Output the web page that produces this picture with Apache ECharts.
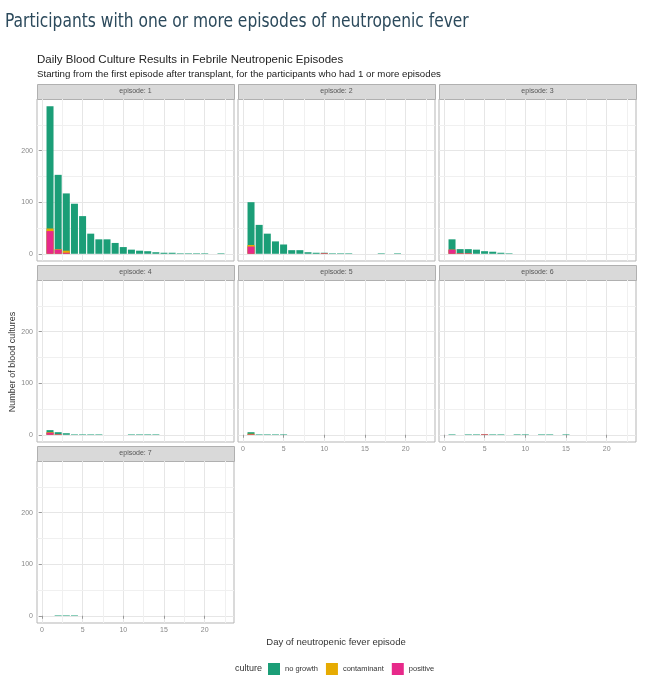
<!DOCTYPE html>
<html>
<head>
<meta charset="utf-8">
<script src="https://cdn.jsdelivr.net/npm/echarts@6/dist/echarts.min.js"></script>
<style>
  html, body { margin: 0; padding: 0; background: #fff; }
  #chart { width: 650px; height: 688px; }
</style>
</head>
<body>
<div id="chart"></div>
<script>
window.onload = function () {

    // days 1..23 of each episode
    var days = [1,2,3,4,5,6,7,8,9,10,11,12,13,14,15,16,17,18,19,20,21,22,23];
    var episodes = ['episode: 1','episode: 2','episode: 3','episode: 4','episode: 5','episode: 6','episode: 7'];
    var cultures = ['no growth','contaminant','positive'];

    // blood culture counts per day
    var noGrowth = [
        [237,144,111,97,73,39,28,28,21,13,8,6,5,3,2,2,1,1,1,1,0,1,0],
        [83,56,39,24,18,7,7,3,2,1,1,1,1,0,0,0,1,0,1,0,0,0,0],
        [20,8,8,8,5,4,2,1,0,0,0,0,0,0,0,0,0,0,0,0,0,0,0],
        [4,4,3,1,1,1,1,0,0,0,1,1,1,1,0,0,0,0,0,0,0,0,0],
        [3,1,1,1,1,0,0,0,0,0,0,0,0,0,0,0,0,0,0,0,0,0,0],
        [1,0,1,1,0,1,1,0,1,1,0,1,1,0,1,0,0,0,0,0,0,0,0],
        [0,1,1,1,0,0,0,0,0,0,0,0,0,0,0,0,0,0,0,0,0,0,0]
    ];
    var contaminant = [
        [5,1,4,0,0,0,0,0,0,0,0,0,0,0,0,0,0,0,0,0,0,0,0],
        [3,0,0,0,0,0,0,0,0,0,0,0,0,0,0,0,0,0,0,0,0,0,0],
        [0,0,0,0,0,0,0,0,0,0,0,0,0,0,0,0,0,0,0,0,0,0,0],
        [1,0,0,0,0,0,0,0,0,0,0,0,0,0,0,0,0,0,0,0,0,0,0],
        [1,0,0,0,0,0,0,0,0,0,0,0,0,0,0,0,0,0,0,0,0,0,0],
        [0,0,0,0,0,0,0,0,0,0,0,0,0,0,0,0,0,0,0,0,0,0,0],
        [0,0,0,0,0,0,0,0,0,0,0,0,0,0,0,0,0,0,0,0,0,0,0]
    ];
    var positive = [
        [44,8,2,0,0,0,0,0,0,0,0,0,0,0,0,0,0,0,0,0,0,0,0],
        [14,0,0,0,0,0,0,0,0,1,0,0,0,0,0,0,0,0,0,0,0,0,0],
        [8,1,1,0,0,0,0,0,0,0,0,0,0,0,0,0,0,0,0,0,0,0,0],
        [4,1,0,0,0,0,0,0,0,0,0,0,0,0,0,0,0,0,0,0,0,0,0],
        [1,0,0,0,0,0,0,0,0,0,0,0,0,0,0,0,0,0,0,0,0,0,0],
        [0,0,0,0,1,0,0,0,0,0,0,0,0,0,0,0,0,0,0,0,0,0,0],
        [0,0,0,0,0,0,0,0,0,0,0,0,0,0,0,0,0,0,0,0,0,0,0]
    ];
    var xTicks = [0,5,10,15,20];
    var yTicks = [0,100,200];
    var xMinor = [2.5,7.5,12.5,17.5,22.5];
    var yMinor = [50,150,250];

    var colors = ['#1b9e77','#e6ab02','#e7298a'];
    var lefts = [37,238,439];
    var tops = [99,280,461];
    var W = 197, H = 162;

    var grids = [], xAxes = [], yAxes = [], series = [], graphics = [];

    // stacked bars: each layer is drawn from 0 up to its cumulative top,
    // upper layers first so the lower ones are painted over them
    function layer(ep, upto){
        var out = [];
        for (var d = 0; d < days.length; d++) {
            var v = positive[ep][d];
            if (upto <= 1) v += contaminant[ep][d];
            if (upto <= 0) v += noGrowth[ep][d];
            out.push([days[d], v]);
        }
        return out;
    }

    for (var i = 0; i < episodes.length; i++) {
        var col = i % 3, row = Math.floor(i / 3);
        var bottomPanel = (i >= 4);
        var leftPanel = (col === 0);

        grids.push({
            left: lefts[col], top: tops[row], width: W, height: H,
            show: true, borderColor: '#b5b5b5', borderWidth: 1, backgroundColor: '#fff'
        });
        xAxes.push({
            gridIndex: i, type: 'value', min: -0.6, max: 23.6, splitNumber: 5,
            axisLine: { show: false },
            axisTick: { show: bottomPanel, length: 3, customValues: xTicks, lineStyle: { color: '#999' } },
            axisLabel: { show: bottomPanel, customValues: xTicks, fontSize: 7, color: '#888', margin: 4,
                         fontFamily: 'Liberation Sans' },
            splitLine: { show: true, lineStyle: { color: '#e6e6e6', width: 1 } }
        });
        yAxes.push({
            gridIndex: i, type: 'value', min: -14, max: 300, splitNumber: 3,
            axisLine: { show: false },
            axisTick: { show: leftPanel, length: 3, customValues: yTicks, lineStyle: { color: '#999' } },
            axisLabel: { show: leftPanel, customValues: yTicks, fontSize: 7, color: '#888', margin: 4,
                         fontFamily: 'Liberation Sans' },
            splitLine: { show: true, lineStyle: { color: '#e6e6e6', width: 1 } }
        });

        for (var c = 0; c < cultures.length; c++) {
            series.push({
                name: cultures[c], type: 'bar', xAxisIndex: i, yAxisIndex: i,
                barWidth: 7, barGap: '-100%', data: layer(i, c),
                itemStyle: { color: colors[c] }, silent: true, animation: false
            });
        }
        // minor grid lines
        var ml = [];
        xMinor.forEach(function(v){ ml.push({ xAxis: v }); });
        yMinor.forEach(function(v){ ml.push({ yAxis: v }); });
        series.push({
            type: 'line', xAxisIndex: i, yAxisIndex: i, data: [], silent: true, animation: false, z: 0,
            markLine: { symbol: ['none','none'], silent: true, animation: false, z: 0,
                        label: { show: false }, lineStyle: { color: '#f0f0f0', width: 1, type: 'solid' },
                        data: ml }
        });

        // facet strip
        graphics.push({
            type: 'rect', left: lefts[col], top: tops[row] - 15,
            shape: { width: W, height: 15 },
            style: { fill: '#d9d9d9', stroke: '#b0b0b0', lineWidth: 1 }
        });
        graphics.push({
            type: 'text', x: lefts[col] + W / 2, y: tops[row] - 7.5,
            style: { text: episodes[i], fill: '#555', font: '7px "Liberation Sans"',
                     textAlign: 'center', textVerticalAlign: 'middle' }
        });
    }

    // slide heading (narrow face)
    graphics.push({
        type: 'text', x: 5, y: 22, scaleX: 0.86,
        style: { text: 'Participants with one or more episodes of neutropenic fever', fill: '#2c4a5c',
                 font: '20px "Liberation Sans Narrow", "DejaVu Sans Condensed", sans-serif',
                 textAlign: 'left', textVerticalAlign: 'middle' }
    });
    graphics.push({
        type: 'text', x: 13, y: 362, rotation: Math.PI / 2,
        style: { text: 'Number of blood cultures', fill: '#333', font: '9px "Liberation Sans"',
                 textAlign: 'center', textVerticalAlign: 'middle' }
    });
    graphics.push({
        type: 'text', x: 336, y: 642,
        style: { text: 'Day of neutropenic fever episode', fill: '#333', font: '9.5px "Liberation Sans"',
                 textAlign: 'center', textVerticalAlign: 'middle' }
    });
    graphics.push({
        type: 'text', x: 262, y: 669,
        style: { text: 'culture', fill: '#333', font: '9px "Liberation Sans"',
                 textAlign: 'right', textVerticalAlign: 'middle' }
    });

    var myChart = echarts.init(document.getElementById('chart'), null, { renderer: 'canvas' });

    var option = {
        backgroundColor: '#fff',
        animation: false,
        title: [
            { text: 'Daily Blood Culture Results in Febrile Neutropenic Episodes', left: 37, top: 54, padding: 0,
              textStyle: { fontSize: 11.5, fontWeight: 'normal', color: '#222', fontFamily: 'Liberation Sans' } },
            { text: 'Starting from the first episode after transplant, for the participants who had 1 or more episodes',
              left: 37, top: 69, padding: 0,
              textStyle: { fontSize: 9.7, fontWeight: 'normal', color: '#222', fontFamily: 'Liberation Sans' } }
        ],
        legend: {
            data: cultures, left: 268, top: 663, padding: 0, itemWidth: 12, itemHeight: 12, itemGap: 8,
            icon: 'rect', selectedMode: false,
            textStyle: { fontSize: 7.5, color: '#333', fontFamily: 'Liberation Sans' }
        },
        grid: grids,
        xAxis: xAxes,
        yAxis: yAxes,
        series: series,
        graphic: graphics
    };

    myChart.setOption(option);
};
</script>
</body>
</html>
